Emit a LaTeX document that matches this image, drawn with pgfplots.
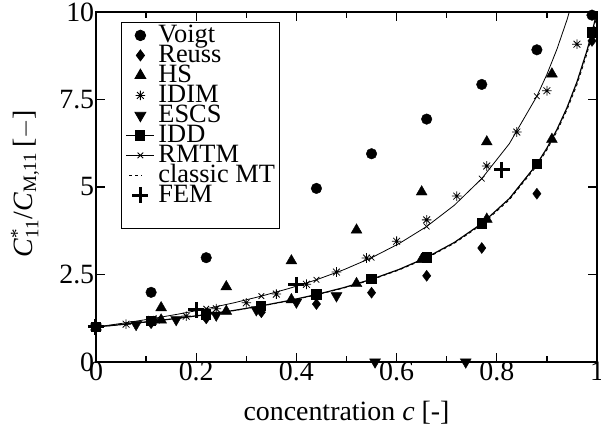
\documentclass[border=0pt]{standalone}
\usepackage{fontspec}
\setmainfont{Liberation Serif}
\usepackage{pgfplots}
\pgfplotsset{compat=1.18}
\newcommand\sm[1]{\mbox{\fontsize{19}{19}\selectfont #1}}
\pgfdeclareplotmark{ast8}{%
  \pgfpathmoveto{\pgfqpoint{-\pgfplotmarksize}{0pt}}\pgfpathlineto{\pgfqpoint{\pgfplotmarksize}{0pt}}%
  \pgfpathmoveto{\pgfqpoint{0pt}{-\pgfplotmarksize}}\pgfpathlineto{\pgfqpoint{0pt}{\pgfplotmarksize}}%
  \pgfpathmoveto{\pgfqpoint{-0.707\pgfplotmarksize}{-0.707\pgfplotmarksize}}\pgfpathlineto{\pgfqpoint{0.707\pgfplotmarksize}{0.707\pgfplotmarksize}}%
  \pgfpathmoveto{\pgfqpoint{-0.707\pgfplotmarksize}{0.707\pgfplotmarksize}}\pgfpathlineto{\pgfqpoint{0.707\pgfplotmarksize}{-0.707\pgfplotmarksize}}%
  \pgfusepathqstroke}
\pgfplotsset{
  legmid/.style={legend image code/.code={\path[draw=none,fill=none] (0bp,0bp) (33bp,0bp);\draw[##1] plot[only marks] coordinates {(17bp,0bp)};}},
  legends/.style={legend image code/.code={\path[draw=none,fill=none] (0bp,0bp) (33bp,0bp);\draw[mark repeat=2,mark phase=1,##1] plot coordinates {(3bp,0bp) (17bp,0bp) (31bp,0bp)};}},
  legshort/.style={legend image code/.code={\path[draw=none,fill=none] (0bp,0bp) (33bp,0bp);\draw[##1] (6bp,0bp) -- (18bp,0bp);}},
}
\begin{document}
\begin{tikzpicture}
\begin{axis}[
  name=ax,
  scale only axis, width=501bp, height=350bp,
  xmin=0, xmax=1, ymin=0, ymax=10,
  xtick={0,0.2,0.4,0.6,0.8,1}, xticklabels={0,0.2,0.4,0.6,0.8,1},
  minor xtick={0.1,0.3,0.5,0.7,0.9},
  ytick={0,2.5,5,7.5,10}, yticklabels={0,2.5,5,7.5,10},
  tick label style={font=\fontsize{28}{30}\selectfont},
  xticklabel style={yshift=3.5bp},
  yticklabel style={xshift=1.7bp},
  label style={font=\fontsize{28}{30}\selectfont},
  xlabel={concentration \textit{c} [-]},
  xlabel style={at={(axis description cs:0.5,0)}, anchor=base, yshift=-58bp},
  ylabel={\textit{C}$^{\sm{*}}_{\sm{11}}$/\textit{C}$_{\sm{M,11}}$\,[$-$]},
  ylabel style={at={(axis description cs:-0.1417,0.51)}, anchor=center},
  axis line style={line width=1.5bp},
  major tick length=9bp, minor tick length=6bp,
  tick style={line width=1.2bp, black},
  legend cell align=left,
  legend style={at={(axis description cs:0.0499,0.9714)}, anchor=north west, draw=black, line width=0.8bp,
    font=\fontsize{26.5}{26.5}\selectfont, inner xsep=2bp, inner ysep=3bp,
    nodes={inner xsep=2bp, inner ysep=2bp, text height=15bp, text depth=1bp}, row sep=0bp},
]
% Voigt
\addplot[black, only marks, mark=*, mark size=5.3bp, legmid] coordinates {
(0,1) (0.11,1.99) (0.22,2.98) (0.33,3.97) (0.44,4.96) (0.55,5.95) (0.66,6.94) (0.77,7.93) (0.88,8.92) (0.99,9.91)};
\addlegendentry{Voigt}
% Reuss
\addplot[black, only marks, mark=diamond*, mark size=5.5bp, legmid] coordinates {
(0,1) (0.11,1.110) (0.22,1.247) (0.33,1.422) (0.44,1.656) (0.55,1.980) (0.66,2.463) (0.77,3.257) (0.88,4.808) (0.99,9.174)};
\addlegendentry{Reuss}
% HS
\addplot[black, only marks, mark=triangle*, mark size=6.3bp, legmid] coordinates {
(0,1) (0.13,1.55) (0.13,1.20) (0.26,2.15) (0.26,1.45) (0.39,2.89) (0.39,1.78) (0.52,3.77) (0.52,2.24)
(0.65,4.86) (0.65,2.93) (0.78,6.29) (0.78,4.08) (0.91,8.23) (0.91,6.36)};
\addlegendentry{HS}
% IDIM
\addplot[black, only marks, mark=ast8, mark size=4.8bp, mark options={line width=0.8bp}, legmid] coordinates {
(0,1) (0.06,1.08) (0.12,1.20) (0.18,1.31) (0.24,1.52) (0.30,1.69) (0.36,1.94) (0.42,2.22) (0.48,2.57)
(0.54,2.97) (0.60,3.45) (0.66,4.06) (0.72,4.74) (0.78,5.60) (0.84,6.57) (0.90,7.75) (0.96,9.08)};
\addlegendentry{IDIM}
% ESCS
\addplot[black, only marks, mark=triangle*, mark size=6.3bp, mark options={rotate=180}, legmid] coordinates {
(0,1) (0.08,1.07) (0.16,1.21) (0.24,1.34) (0.32,1.49) (0.40,1.71) (0.48,1.89) (0.557,0) (0.738,0)};
\addlegendentry{ESCS}
% IDD
\addplot[black, line width=1.2bp, mark=square*, mark size=4.5bp, mark indices={1,3,5,7,9,11,13,15,17,23}, legends] coordinates {
(0,1) (0.055,1.076) (0.11,1.160) (0.165,1.252) (0.22,1.356) (0.275,1.472) (0.33,1.604) (0.385,1.754)
(0.44,1.926) (0.495,2.127) (0.55,2.363) (0.605,2.645) (0.66,2.987) (0.715,3.413) (0.77,3.955) (0.825,4.669)
(0.88,5.653) (0.9,6.110) (0.92,6.640) (0.94,7.262) (0.96,8.002) (0.98,8.896) (0.99,9.417) (1.0,10.0)};
\addlegendentry{IDD}
% RMTM
\addplot[black, line width=0.8bp, mark=x, mark size=4bp, mark indices={1,3,5,7,9,11,13,15,17}, legends] coordinates {
(0,1) (0.055,1.111) (0.11,1.234) (0.165,1.370) (0.22,1.521) (0.275,1.690) (0.33,1.882) (0.385,2.100)
(0.44,2.349) (0.495,2.639) (0.55,2.979) (0.605,3.384) (0.66,3.872) (0.715,4.476) (0.77,5.240) (0.825,6.237)
(0.88,7.594) (0.9,8.218) (0.92,8.936) (0.94,9.772) (0.96,10.75)};
\addlegendentry{RMTM}
% classic MT
\addplot[black, line width=0.8bp, dashed, legshort] coordinates {
(0,1) (0.055,1.075) (0.11,1.158) (0.165,1.250) (0.22,1.352) (0.275,1.467) (0.33,1.598) (0.385,1.746)
(0.44,1.917) (0.495,2.115) (0.55,2.349) (0.605,2.628) (0.66,2.967) (0.715,3.389) (0.77,3.925) (0.825,4.632)
(0.88,5.606) (0.9,6.059) (0.92,6.584) (0.94,7.200) (0.96,7.922) (0.98,8.807) (0.99,9.323) (1.0,9.9)};
\addlegendentry{classic MT}
% FEM
\addplot[black, only marks, mark=+, mark size=8bp, mark options={line width=3bp}, legmid] coordinates {
(0,1.0) (0.2,1.49) (0.4,2.2) (0.81,5.49)};
\addlegendentry{FEM}
\addlegendimage{empty legend}
\addlegendentry{}
\end{axis}
\pgfresetboundingbox
\path[use as bounding box] ([shift={(-96bp,-72bp)}]ax.south west) rectangle ([shift={(4bp,12bp)}]ax.north east);
\end{tikzpicture}
\end{document}
